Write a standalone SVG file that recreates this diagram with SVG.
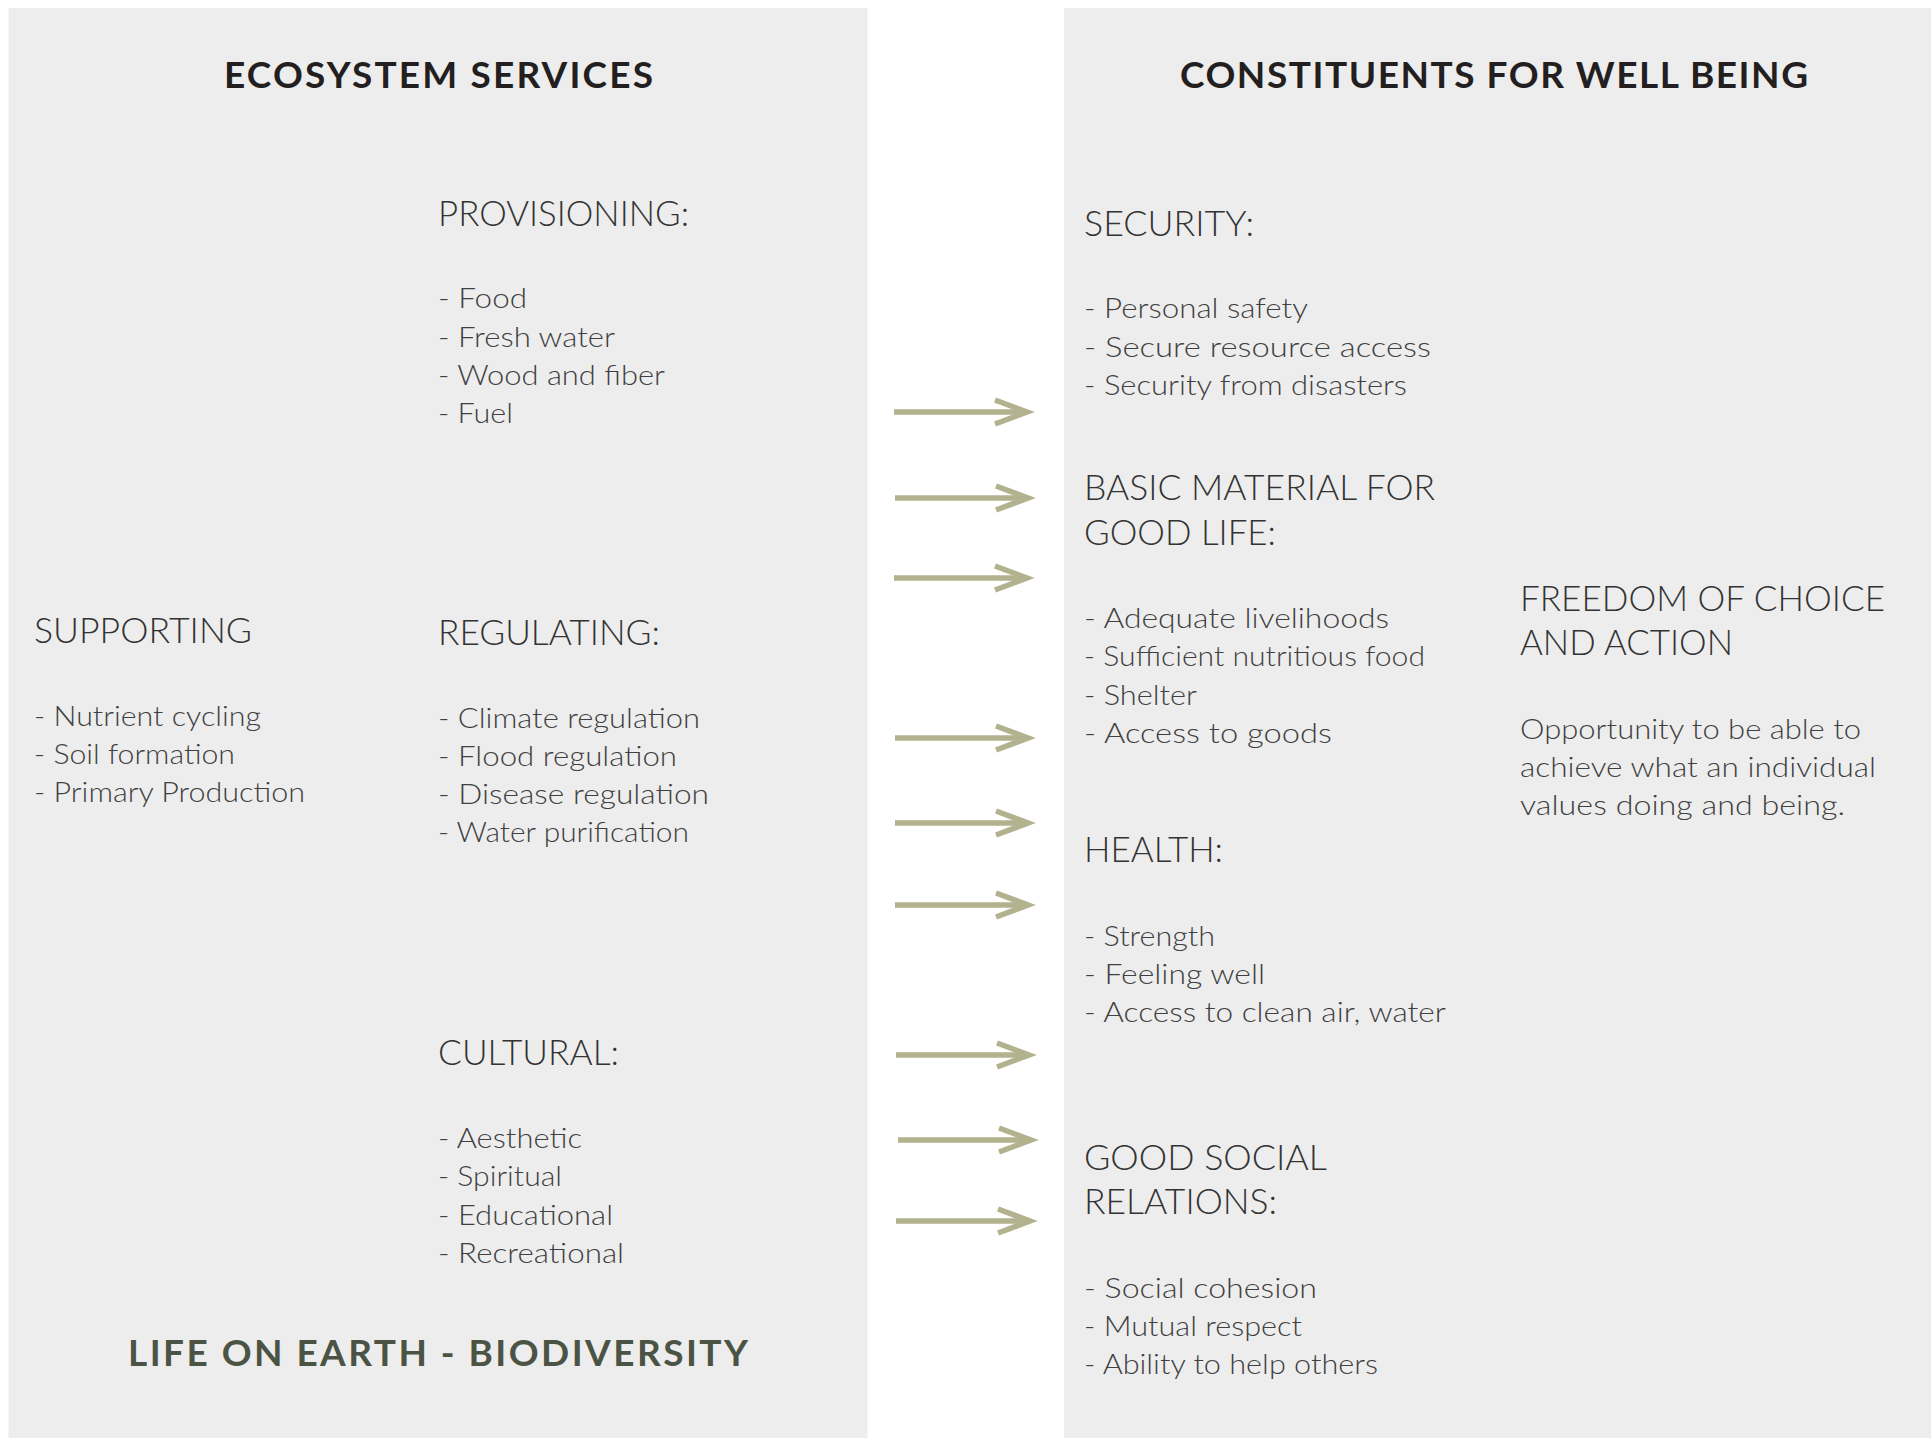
<svg xmlns="http://www.w3.org/2000/svg" width="1931" height="1438" viewBox="0 0 1931 1438">
<style>
text{font-family:Lato,"Open Sans","Liberation Sans",sans-serif}
.title{font-size:37px;font-weight:700;fill:#231f20}
.life{font-size:37px;font-weight:700;fill:#4b5444}
.h{font-size:35px;font-weight:300;fill:#333333}
.i{font-size:28px;font-weight:300;fill:#404040}
.panel{fill:#ededed}
.arrow{fill:none;stroke:#b3b28f;stroke-width:5.5;marker-end:url(#ah)}
</style>
<defs>
<marker id="ah" markerUnits="userSpaceOnUse" viewBox="-40 -20 50 40" refX="0" refY="0" markerWidth="50" markerHeight="40" orient="auto" overflow="visible">
<polyline points="-32,-12 0,0 -32,12" fill="none" stroke="#b3b28f" stroke-width="5.5" stroke-linejoin="miter"/>
</marker>
</defs>
<rect x="0" y="0" width="1931" height="1438" fill="#ffffff"/>
<rect class="panel" x="8.5" y="8" width="859" height="1430"/>
<rect class="panel" x="1064" y="8" width="867" height="1430"/>

<g id="title-ecosystem-services">
<text class="title" x="224" y="88" textLength="429" lengthAdjust="spacing">ECOSYSTEM SERVICES</text>
</g>
<g id="title-constituents">
<text class="title" x="1180" y="88" textLength="628" lengthAdjust="spacing">CONSTITUENTS FOR WELL BEING</text>
</g>

<g id="provisioning">
<text class="h" x="438" y="226" textLength="251" lengthAdjust="spacingAndGlyphs">PROVISIONING:</text>
<text class="i" x="438" y="308" textLength="89" lengthAdjust="spacingAndGlyphs">- Food</text>
<text class="i" x="438" y="347" textLength="177" lengthAdjust="spacingAndGlyphs">- Fresh water</text>
<text class="i" x="438" y="385" textLength="227" lengthAdjust="spacingAndGlyphs">- Wood and fiber</text>
<text class="i" x="438" y="423" textLength="75" lengthAdjust="spacingAndGlyphs">- Fuel</text>
</g>

<g id="supporting">
<text class="h" x="34" y="643" textLength="218" lengthAdjust="spacingAndGlyphs">SUPPORTING</text>
<text class="i" x="34" y="726" textLength="227" lengthAdjust="spacingAndGlyphs">- Nutrient cycling</text>
<text class="i" x="34" y="764" textLength="201" lengthAdjust="spacingAndGlyphs">- Soil formation</text>
<text class="i" x="34" y="802" textLength="271" lengthAdjust="spacingAndGlyphs">- Primary Production</text>
</g>

<g id="regulating">
<text class="h" x="438" y="645" textLength="222" lengthAdjust="spacingAndGlyphs">REGULATING:</text>
<text class="i" x="438" y="728" textLength="262" lengthAdjust="spacingAndGlyphs">- Climate regulation</text>
<text class="i" x="438" y="766" textLength="239" lengthAdjust="spacingAndGlyphs">- Flood regulation</text>
<text class="i" x="438" y="804" textLength="271" lengthAdjust="spacingAndGlyphs">- Disease regulation</text>
<text class="i" x="438" y="842" textLength="251" lengthAdjust="spacingAndGlyphs">- Water purification</text>
</g>

<g id="cultural">
<text class="h" x="438" y="1065" textLength="181" lengthAdjust="spacingAndGlyphs">CULTURAL:</text>
<text class="i" x="438" y="1148" textLength="144" lengthAdjust="spacingAndGlyphs">- Aesthetic</text>
<text class="i" x="438" y="1186" textLength="124" lengthAdjust="spacingAndGlyphs">- Spiritual</text>
<text class="i" x="438" y="1225" textLength="175" lengthAdjust="spacingAndGlyphs">- Educational</text>
<text class="i" x="438" y="1263" textLength="186" lengthAdjust="spacingAndGlyphs">- Recreational</text>
</g>

<g id="life-on-earth">
<text class="life" x="128" y="1366" textLength="620" lengthAdjust="spacing">LIFE ON EARTH - BIODIVERSITY</text>
</g>

<g id="security">
<text class="h" x="1084" y="236" textLength="170" lengthAdjust="spacingAndGlyphs">SECURITY:</text>
<text class="i" x="1084" y="318" textLength="224" lengthAdjust="spacingAndGlyphs">- Personal safety</text>
<text class="i" x="1084" y="357" textLength="347" lengthAdjust="spacingAndGlyphs">- Secure resource access</text>
<text class="i" x="1084" y="395" textLength="323" lengthAdjust="spacingAndGlyphs">- Security from disasters</text>
</g>

<g id="basic-material">
<text class="h" x="1084" y="500" textLength="351" lengthAdjust="spacingAndGlyphs">BASIC MATERIAL FOR</text>
<text class="h" x="1084" y="545" textLength="192" lengthAdjust="spacingAndGlyphs">GOOD LIFE:</text>
<text class="i" x="1084" y="628" textLength="305" lengthAdjust="spacingAndGlyphs">- Adequate livelihoods</text>
<text class="i" x="1084" y="666" textLength="341" lengthAdjust="spacingAndGlyphs">- Sufficient nutritious food</text>
<text class="i" x="1084" y="705" textLength="113" lengthAdjust="spacingAndGlyphs">- Shelter</text>
<text class="i" x="1084" y="743" textLength="248" lengthAdjust="spacingAndGlyphs">- Access to goods</text>
</g>

<g id="health">
<text class="h" x="1084" y="862" textLength="139" lengthAdjust="spacingAndGlyphs">HEALTH:</text>
<text class="i" x="1084" y="946" textLength="131" lengthAdjust="spacingAndGlyphs">- Strength</text>
<text class="i" x="1084" y="984" textLength="181" lengthAdjust="spacingAndGlyphs">- Feeling well</text>
<text class="i" x="1084" y="1022" textLength="362" lengthAdjust="spacingAndGlyphs">- Access to clean air, water</text>
</g>

<g id="good-social-relations">
<text class="h" x="1084" y="1170" textLength="243" lengthAdjust="spacingAndGlyphs">GOOD SOCIAL</text>
<text class="h" x="1084" y="1214" textLength="193" lengthAdjust="spacingAndGlyphs">RELATIONS:</text>
<text class="i" x="1084" y="1298" textLength="233" lengthAdjust="spacingAndGlyphs">- Social cohesion</text>
<text class="i" x="1084" y="1336" textLength="218" lengthAdjust="spacingAndGlyphs">- Mutual respect</text>
<text class="i" x="1084" y="1374" textLength="294" lengthAdjust="spacingAndGlyphs">- Ability to help others</text>
</g>

<g id="freedom">
<text class="h" x="1520" y="611" textLength="365" lengthAdjust="spacingAndGlyphs">FREEDOM OF CHOICE</text>
<text class="h" x="1520" y="655" textLength="213" lengthAdjust="spacingAndGlyphs">AND ACTION</text>
<text class="i" x="1520" y="739" textLength="341" lengthAdjust="spacingAndGlyphs">Opportunity to be able to</text>
<text class="i" x="1520" y="777" textLength="356" lengthAdjust="spacingAndGlyphs">achieve what an individual</text>
<text class="i" x="1520" y="815" textLength="325" lengthAdjust="spacingAndGlyphs">values doing and being.</text>
</g>

<g id="connectors">
<path class="arrow" d="M894,412 H1027"/>
<path class="arrow" d="M895,498 H1028"/>
<path class="arrow" d="M894,578 H1027"/>
<path class="arrow" d="M895,738 H1028"/>
<path class="arrow" d="M895,823 H1028"/>
<path class="arrow" d="M895,905 H1028"/>
<path class="arrow" d="M896,1055 H1029"/>
<path class="arrow" d="M898,1140 H1031"/>
<path class="arrow" d="M896,1221 H1030"/>
</g>
</svg>
